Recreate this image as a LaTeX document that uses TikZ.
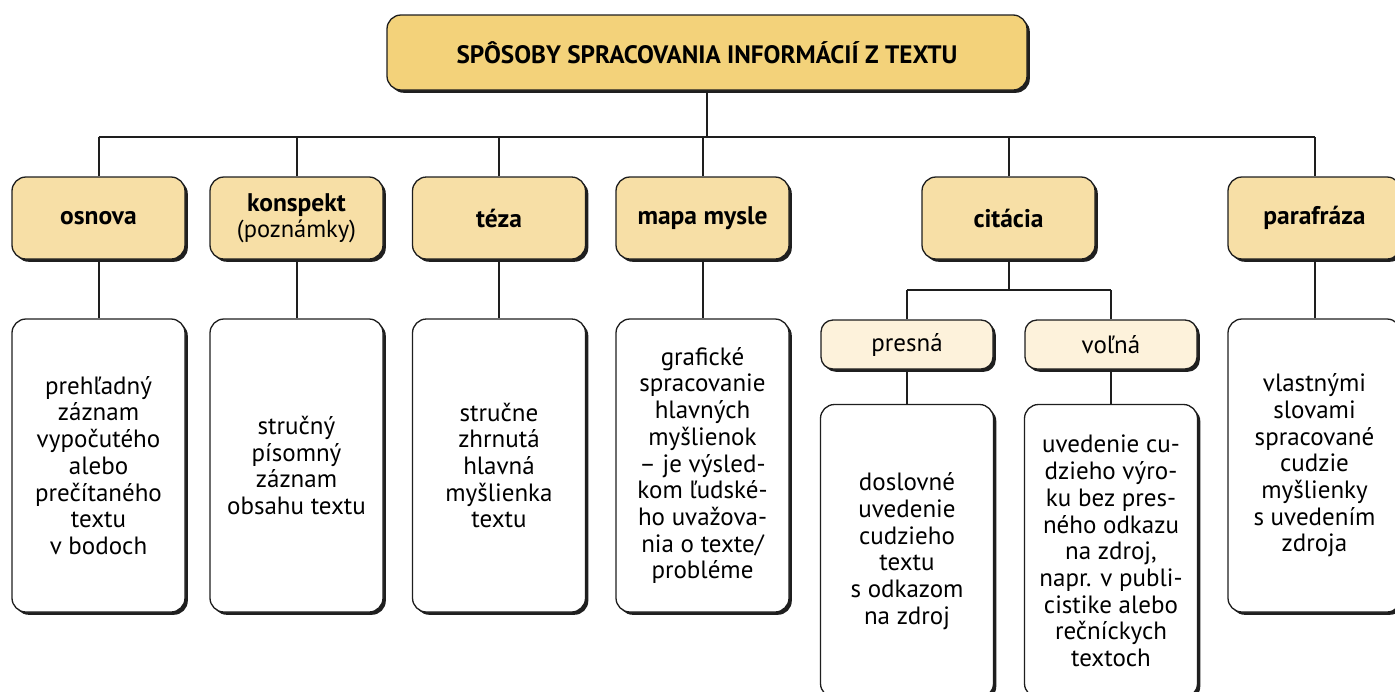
\documentclass[tikz,border=0pt]{standalone}
\usepackage{fontspec}
\setmainfont{PT Sans}
\usetikzlibrary{shadows}
\definecolor{titlefill}{RGB}{243,210,122}
\definecolor{headfill}{RGB}{247,223,166}
\definecolor{subfill}{RGB}{253,242,219}
\definecolor{linec}{RGB}{30,30,30}
\tikzset{
  boxbase/.style={draw=linec, line width=1.3pt, rounded corners=14pt, inner sep=0pt, align=center,
    drop shadow={shadow xshift=2.8pt, shadow yshift=-2.8pt, fill=black!88, opacity=1}},
  titlebox/.style={boxbase, fill=titlefill, minimum width=640pt, minimum height=75pt,
    font=\fontsize{25.2}{28}\selectfont\bfseries},
  headbox/.style={boxbase, fill=headfill, minimum width=173pt, minimum height=82pt,
    font=\fontsize{24.5}{26}\selectfont},
  headtext/.style={font=\fontsize{25.5}{26}\selectfont\bfseries},
  subbox/.style={boxbase, fill=subfill, rounded corners=12pt, minimum width=172pt, minimum height=49pt,
    font=\fontsize{25}{26}\selectfont},
  descbox/.style={boxbase, fill=white, minimum width=173pt, minimum height=293pt,
    font=\fontsize{25}{26.7}\selectfont},
  conn/.style={draw=linec, line width=2pt}
}
\newcommand{\hd}[1]{{\fontsize{25.5}{26}\selectfont\bfseries #1}}
\begin{document}
\begin{tikzpicture}[x=1pt,y=-1pt]
\useasboundingbox (0,0) rectangle (1395,691);
\clip (0,0) rectangle (1395,691);
% title
\node[titlebox] (title) at (707,52.5) {SPÔSOBY SPRACOVANIA INFORMÁCIÍ Z TEXTU};
% headers
\node[headbox] (osnova) at (98.5,218) {\hd{osnova}};
\node[headbox] (konspekt) at (296.5,218) {\hd{konspekt}\\(poznámky)};
\node[headbox] (teza) at (499,218) {\hd{téza}};
\node[headbox] (mapa) at (702.5,218) {\hd{mapa mysle}};
\node[headbox] (citacia) at (1008.5,218) {\hd{citácia}};
\node[headbox] (parafraza) at (1314.5,218) {\hd{parafráza}};
% descriptions
\node[descbox] (d1) at (98.5,465.5) {prehľadný\\záznam\\vypočutého\\alebo\\prečítaného\\textu\\v bodoch};
\node[descbox] (d2) at (296.5,465.5) {stručný\\písomný\\záznam\\obsahu textu};
\node[descbox] (d3) at (499,465.5) {stručne\\zhrnutá\\hlavná\\myšlienka\\textu};
\node[descbox] (d4) at (702.5,465.5) {grafické\\spracovanie\\hlavných\\myšlienok\\– je výsled-\\kom ľudské-\\ho uvažova-\\nia o texte/\\probléme};
\node[descbox] (d6) at (1314.5,465.5) {vlastnými\\slovami\\spracované\\cudzie\\myšlienky\\s uvedením\\zdroja};
% citacia subtree
\node[subbox] (presna) at (907,344.5) {presná};
\node[subbox] (volna) at (1111,344.5) {voľná};
\node[descbox] (d5a) at (907,551) {doslovné\\uvedenie\\cudzieho\\textu\\s odkazom\\na zdroj};
\node[descbox] (d5b) at (1111,551) {uvedenie cu-\\dzieho výro-\\ku bez pres-\\ného odkazu\\na zdroj,\\napr. v publi-\\cistike alebo\\rečníckych\\textoch};
% connectors
\coordinate (bus) at (0,137);
\coordinate (cbus) at (0,290);
\draw[conn] (title.south) -- (title.south |- bus);
\draw[conn] (osnova.north |- bus) -- (parafraza.north |- bus);
\foreach \n in {osnova,konspekt,teza,mapa,citacia,parafraza}
  \draw[conn] (\n.north) -- (\n.north |- bus);
\draw[conn] (osnova.south) -- (d1.north);
\draw[conn] (konspekt.south) -- (d2.north);
\draw[conn] (teza.south) -- (d3.north);
\draw[conn] (mapa.south) -- (d4.north);
\draw[conn] (parafraza.south) -- (d6.north);
\draw[conn] (citacia.south) -- (citacia.south |- cbus);
\draw[conn] (presna.north |- cbus) -- (volna.north |- cbus);
\draw[conn] (presna.north) -- (presna.north |- cbus);
\draw[conn] (volna.north) -- (volna.north |- cbus);
\draw[conn] (presna.south) -- (d5a.north);
\draw[conn] (volna.south) -- (d5b.north);
\end{tikzpicture}
\end{document}
